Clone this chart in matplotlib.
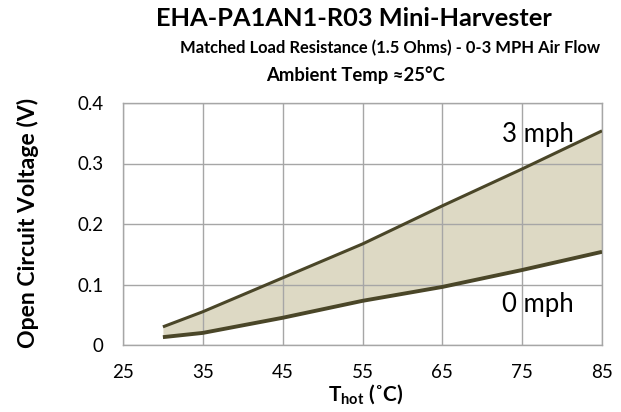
import matplotlib
matplotlib.use("Agg")
import matplotlib.pyplot as plt

plt.rcParams['font.family'] = ['Lato', 'DejaVu Sans']
plt.rcParams['mathtext.fontset'] = 'custom'
plt.rcParams['mathtext.rm'] = 'Lato'
plt.rcParams['mathtext.bf'] = 'Lato:bold'

temps = [30, 35, 45, 55, 65, 75, 85]
v_3mph = [0.030, 0.055, 0.111, 0.167, 0.230, 0.291, 0.354]
v_0mph = [0.013, 0.020, 0.045, 0.073, 0.096, 0.124, 0.154]
x_ticks = [25, 35, 45, 55, 65, 75, 85]
y_ticks = [0, 0.1, 0.2, 0.3, 0.4]
y_tick_labels = ["0", "0.1", "0.2", "0.3", "0.4"]

W, H = 621, 412
fig = plt.figure(figsize=(6.21, 4.12), dpi=100)
ax = fig.add_axes([123/W, 1-345/H, (602-123)/W, (345-103)/H])

ax.fill_between(temps, v_0mph, v_3mph, color='#ddd9c4', zorder=1, linewidth=0)
ax.plot(temps, v_3mph, color='#4a4628', lw=2.2, zorder=3, solid_capstyle='butt')
ax.plot(temps, v_0mph, color='#4a4628', lw=2.8, zorder=3, solid_capstyle='butt')

ax.set_xlim(25, 85)
ax.set_ylim(0, 0.4)
ax.set_xticks(x_ticks)
ax.set_yticks(y_ticks)
ax.set_yticklabels(y_tick_labels)
ax.grid(True, color='#a6a6a6', lw=1.0, zorder=2)
ax.set_axisbelow(False)
for s in ax.spines.values():
    s.set_color('#a6a6a6')
    s.set_linewidth(1.0)
ax.tick_params(axis='y', length=0, labelsize=13.5, pad=14, colors='black')
ax.tick_params(axis='x', length=0, labelsize=13.5, pad=14, colors='black')

fig.text(538/W, 1-142/H, '3 mph', ha='center', va='baseline', fontsize=18.5)
fig.text(538/W, 1-312/H, '0 mph', ha='center', va='baseline', fontsize=18.5)

fig.text(354/W, 1-26/H, 'EHA-PA1AN1-R03 Mini-Harvester', ha='center', va='baseline',
         fontsize=18.3, fontweight='bold')
fig.text(390/W, 1-53/H, 'Matched Load Resistance (1.5 Ohms) - 0-3 MPH Air Flow',
         ha='center', va='baseline', fontsize=11.9, fontweight='bold')
fig.text(356/W, 1-81/H, 'Ambient Temp \u224825\u00b0C', ha='center', va='baseline',
         fontsize=13.3, fontweight='bold')

fig.text(28/W, 1-223/H, 'Open Circuit Voltage (V)', rotation=90, ha='center', va='center',
         fontsize=16.6, fontweight='bold')
fig.text(366/W, 1-401/H, 'T$_{\\mathbf{hot}}$ (\u02daC)', ha='center', va='baseline',
         fontsize=15, fontweight='bold')

fig.savefig('out.png', dpi=100)
